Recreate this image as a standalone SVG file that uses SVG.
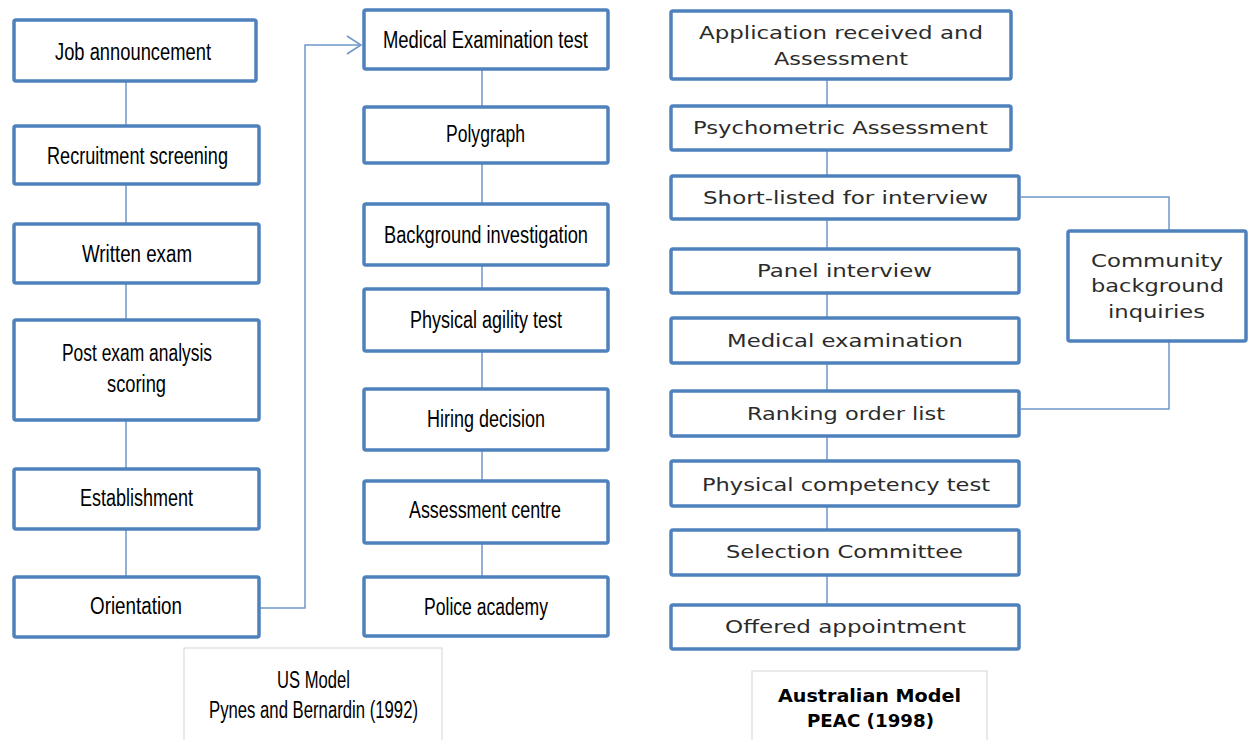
<svg xmlns="http://www.w3.org/2000/svg" width="1251" height="740" viewBox="0 0 1251 740">
<style>
.box{fill:#fff;stroke:#4F81BD;stroke-width:3.5}
.cap{fill:#fff;stroke:#dcdcdc;stroke-width:1.2}
.conn{fill:none;stroke:#7097C8;stroke-width:1.5}
.n{font-family:"Liberation Sans Narrow","Liberation Sans",Arial,sans-serif;font-size:23px;fill:#000}
.v{font-family:"DejaVu Sans",Verdana,sans-serif;font-size:18px;fill:#2b2b2b}
.b{font-family:"DejaVu Sans",Verdana,sans-serif;font-size:17px;font-weight:bold;fill:#000}
</style>
<defs>
<marker id="chev" viewBox="0 0 16 20" refX="15" refY="10" markerWidth="16" markerHeight="20" markerUnits="userSpaceOnUse" orient="auto">
<path d="M1,1 L15,10 L1,19" fill="none" stroke="#7097C8" stroke-width="1.6"/>
</marker>
</defs>
<rect width="1251" height="740" fill="#fff"/>
<g id="connectors">
<path class="conn" d="M126,81 V126 M126,184 V224 M126,283 V320 M126,420 V469 M126,529 V577"/>
<path class="conn" d="M482,69 V107 M482,163 V204 M482,265 V289 M482,351 V389 M482,450 V481 M482,543 V577"/>
<path class="conn" d="M827,79 V106 M827,150 V176 M827,219 V249 M827,293 V318 M827,363 V391 M827,436 V461 M827,506 V530 M827,575 V605"/>
<path class="conn" d="M1021,197 H1169 V231 M1169,341 V409 H1021"/>
<path class="conn" d="M260,608 H305 V45 H361" marker-end="url(#chev)"/>
</g>
<g id="job-announcement"><rect class="box" x="14" y="20" width="242" height="61" rx="2"/><text class="n" x="55" y="60" textLength="156" lengthAdjust="spacingAndGlyphs">Job announcement</text></g>
<g id="recruitment-screening"><rect class="box" x="14" y="126" width="245" height="58" rx="2"/><text class="n" x="47" y="164" textLength="181" lengthAdjust="spacingAndGlyphs">Recruitment screening</text></g>
<g id="written-exam"><rect class="box" x="14" y="224" width="245" height="59" rx="2"/><text class="n" x="82" y="262" textLength="110" lengthAdjust="spacingAndGlyphs">Written exam</text></g>
<g id="post-exam"><rect class="box" x="14" y="320" width="245" height="100" rx="2"/><text class="n" x="62" y="361" textLength="150" lengthAdjust="spacingAndGlyphs">Post exam analysis</text><text class="n" x="107" y="392" textLength="59" lengthAdjust="spacingAndGlyphs">scoring</text></g>
<g id="establishment"><rect class="box" x="14" y="469" width="245" height="60" rx="2"/><text class="n" x="80" y="506" textLength="113" lengthAdjust="spacingAndGlyphs">Establishment</text></g>
<g id="orientation"><rect class="box" x="14" y="577" width="245" height="60" rx="2"/><text class="n" x="90" y="614" textLength="92" lengthAdjust="spacingAndGlyphs">Orientation</text></g>
<g id="medical-examination-test"><rect class="box" x="364" y="10" width="244" height="59" rx="2"/><text class="n" x="383" y="48" textLength="205" lengthAdjust="spacingAndGlyphs">Medical Examination test</text></g>
<g id="polygraph"><rect class="box" x="364" y="107" width="244" height="56" rx="2"/><text class="n" x="446" y="142" textLength="79" lengthAdjust="spacingAndGlyphs">Polygraph</text></g>
<g id="background-investigation"><rect class="box" x="364" y="204" width="244" height="61" rx="2"/><text class="n" x="384" y="243" textLength="204" lengthAdjust="spacingAndGlyphs">Background investigation</text></g>
<g id="physical-agility-test"><rect class="box" x="364" y="289" width="244" height="62" rx="2"/><text class="n" x="410" y="328" textLength="152" lengthAdjust="spacingAndGlyphs">Physical agility test</text></g>
<g id="hiring-decision"><rect class="box" x="364" y="389" width="244" height="61" rx="2"/><text class="n" x="427" y="427" textLength="118" lengthAdjust="spacingAndGlyphs">Hiring decision</text></g>
<g id="assessment-centre"><rect class="box" x="364" y="481" width="244" height="62" rx="2"/><text class="n" x="409" y="518" textLength="152" lengthAdjust="spacingAndGlyphs">Assessment centre</text></g>
<g id="police-academy"><rect class="box" x="364" y="577" width="244" height="59" rx="2"/><text class="n" x="424" y="615" textLength="124" lengthAdjust="spacingAndGlyphs">Police academy</text></g>
<g id="us-caption"><rect class="cap" x="184" y="648" width="258" height="100"/><text class="n" x="277" y="688" textLength="73" lengthAdjust="spacingAndGlyphs">US Model</text><text class="n" x="209" y="718" textLength="209" lengthAdjust="spacingAndGlyphs">Pynes and Bernardin (1992)</text></g>
<g id="application-received"><rect class="box" x="671" y="11" width="340" height="68" rx="2"/><text class="v" x="699" y="39" textLength="284" lengthAdjust="spacingAndGlyphs">Application received and</text><text class="v" x="774" y="65" textLength="134" lengthAdjust="spacingAndGlyphs">Assessment</text></g>
<g id="psychometric-assessment"><rect class="box" x="671" y="106" width="340" height="44" rx="2"/><text class="v" x="693" y="134" textLength="295" lengthAdjust="spacingAndGlyphs">Psychometric Assessment</text></g>
<g id="short-listed"><rect class="box" x="671" y="176" width="348" height="43" rx="2"/><text class="v" x="703" y="204" textLength="285" lengthAdjust="spacingAndGlyphs">Short-listed for interview</text></g>
<g id="panel-interview"><rect class="box" x="671" y="249" width="348" height="44" rx="2"/><text class="v" x="757" y="277" textLength="175" lengthAdjust="spacingAndGlyphs">Panel interview</text></g>
<g id="medical-examination"><rect class="box" x="671" y="318" width="348" height="45" rx="2"/><text class="v" x="727" y="347" textLength="236" lengthAdjust="spacingAndGlyphs">Medical examination</text></g>
<g id="ranking-order-list"><rect class="box" x="671" y="391" width="348" height="45" rx="2"/><text class="v" x="747" y="420" textLength="198" lengthAdjust="spacingAndGlyphs">Ranking order list</text></g>
<g id="physical-competency-test"><rect class="box" x="671" y="461" width="348" height="45" rx="2"/><text class="v" x="702" y="491" textLength="288" lengthAdjust="spacingAndGlyphs">Physical competency test</text></g>
<g id="selection-committee"><rect class="box" x="671" y="530" width="348" height="45" rx="2"/><text class="v" x="726" y="558" textLength="237" lengthAdjust="spacingAndGlyphs">Selection Committee</text></g>
<g id="offered-appointment"><rect class="box" x="671" y="605" width="348" height="44" rx="2"/><text class="v" x="725" y="633" textLength="241" lengthAdjust="spacingAndGlyphs">Offered appointment</text></g>
<g id="community-background"><rect class="box" x="1068" y="231" width="178" height="110" rx="2"/><text class="v" x="1091" y="267" textLength="132" lengthAdjust="spacingAndGlyphs">Community</text><text class="v" x="1091" y="292" textLength="133" lengthAdjust="spacingAndGlyphs">background</text><text class="v" x="1108" y="318" textLength="97" lengthAdjust="spacingAndGlyphs">inquiries</text></g>
<g id="au-caption"><rect class="cap" x="752" y="671" width="235" height="80"/><text class="b" x="778" y="702" textLength="183" lengthAdjust="spacingAndGlyphs">Australian Model</text><text class="b" x="807" y="727" textLength="127" lengthAdjust="spacingAndGlyphs">PEAC (1998)</text></g>
</svg>
